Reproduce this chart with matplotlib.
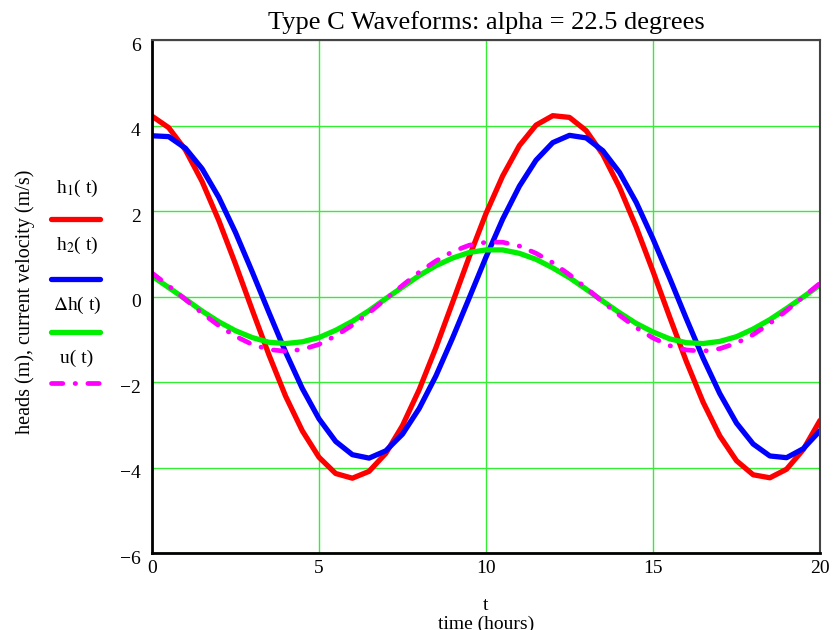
import numpy as np
import matplotlib
matplotlib.use("Agg")
import matplotlib.pyplot as plt
import matplotlib.transforms as mtransforms
from matplotlib.lines import Line2D

plt.rcParams['font.family'] = ['Liberation Serif', 'DejaVu Serif']
plt.rcParams['mathtext.fontset'] = 'stix'

# time samples (hours), every half hour
t = np.arange(0, 20.01, 0.5)

h1 = [4.22, 3.95, 3.43, 2.69, 1.78, 0.76, -0.31, -1.36, -2.33, -3.14,
      -3.76, -4.14, -4.25, -4.09, -3.67, -3.02, -2.18, -1.20, -0.14, 0.93,
      1.94, 2.82, 3.53, 4.01, 4.23, 4.19, 3.88, 3.32, 2.55, 1.62,
      0.59, -0.48, -1.52, -2.47, -3.26, -3.84, -4.17, -4.24, -4.04, -3.58,
      -2.90]
h2 = [3.76, 3.74, 3.47, 2.99, 2.32, 1.50, 0.58, -0.37, -1.30, -2.15,
      -2.86, -3.39, -3.70, -3.78, -3.61, -3.22, -2.62, -1.86, -0.97, -0.03,
      0.92, 1.81, 2.58, 3.19, 3.60, 3.77, 3.71, 3.41, 2.90, 2.20,
      1.35, 0.43, -0.52, -1.44, -2.27, -2.96, -3.45, -3.73, -3.77, -3.56,
      -3.14]
dh = [0.48, 0.21, -0.06, -0.34, -0.59, -0.80, -0.96, -1.07, -1.10, -1.06,
      -0.96, -0.79, -0.58, -0.33, -0.05, 0.22, 0.49, 0.72, 0.90, 1.03,
      1.09, 1.09, 1.01, 0.87, 0.67, 0.44, 0.17, -0.11, -0.38, -0.63,
      -0.83, -0.99, -1.08, -1.10, -1.05, -0.94, -0.76, -0.54, -0.28, -0.01,
      0.27]
u = [0.55, 0.25, -0.07, -0.39, -0.68, -0.93, -1.12, -1.24, -1.28, -1.24,
     -1.12, -0.92, -0.67, -0.38, -0.06, 0.26, 0.57, 0.83, 1.05, 1.20,
     1.27, 1.27, 1.18, 1.01, 0.79, 0.51, 0.20, -0.13, -0.44, -0.73,
     -0.97, -1.15, -1.25, -1.28, -1.22, -1.09, -0.89, -0.63, -0.33, -0.01,
     0.31]

labels = [r'h$_1$( t)', r'h$_2$( t)', r'$\Delta$h( t)', 'u( t)']
colors = ['#ff0000', '#0000ff', '#00ee00', '#ff00ff']
dadot = (0, (2.4, 2.6, 0.1, 2.6))

fig = plt.figure(figsize=(8.35, 6.30), dpi=100)
ax = fig.add_axes([0.182, 0.1222, 0.800, 0.8143])

lw = 3.8
ax.plot(t, h1, color=colors[0], lw=lw, solid_capstyle='round')
ax.plot(t, h2, color=colors[1], lw=lw, solid_capstyle='round')
ax.plot(t, dh, color=colors[2], lw=lw, solid_capstyle='round')
ax.plot(t, u, color=colors[3], lw=3.4, linestyle=dadot, dash_capstyle='round')

ax.set_xlim(0, 20)
ax.set_ylim(-6, 6)
ax.set_xticks([0, 5, 10, 15, 20])
ax.set_yticks([-6, -4, -2, 0, 2, 4, 6])
ax.grid(True, color='#33ee33', lw=1)
ax.set_axisbelow(True)
ax.tick_params(length=0, labelsize=14)
ax.tick_params(axis='y', pad=8)
ax.tick_params(axis='x', pad=5)
# y tick labels sit a little below their grid line
shift = mtransforms.ScaledTranslation(0, -4 / 100, fig.dpi_scale_trans)
for lab in ax.get_yticklabels():
    lab.set_transform(lab.get_transform() + shift)

for s in ['left', 'bottom']:
    ax.spines[s].set_linewidth(2)
    ax.spines[s].set_color('black')
for s in ['top', 'right']:
    ax.spines[s].set_linewidth(1.5)
    ax.spines[s].set_color('#444444')

ax.set_title('Type C Waveforms: alpha = 22.5 degrees', fontsize=19, pad=8)
fig.text(0.030, 1 - 302 / 630, 'heads (m), current velocity (m/s)', rotation=90,
         ha='center', va='center', fontsize=14.5)
fig.text(0.582, 1 - 605 / 630, 't', ha='center', va='center', fontsize=14)
fig.text(0.582, 1 - 624 / 630, 'time (hours)', ha='center', va='center', fontsize=14)

# legend: label above each line sample, left of the axes
text_y = [188, 245, 305, 358]
line_y = [219, 279, 332, 383]
for i in range(4):
    fig.text(77 / 835, 1 - text_y[i] / 630, labels[i], ha='center', va='center', fontsize=14)
    yy = 1 - line_y[i] / 630
    ls = dadot if i == 3 else '-'
    fig.add_artist(Line2D([51 / 835, 100 / 835], [yy, yy], color=colors[i],
                          lw=lw if i < 3 else 3.4, linestyle=ls,
                          solid_capstyle='round', dash_capstyle='round'))

fig.savefig('out.png', dpi=100)
